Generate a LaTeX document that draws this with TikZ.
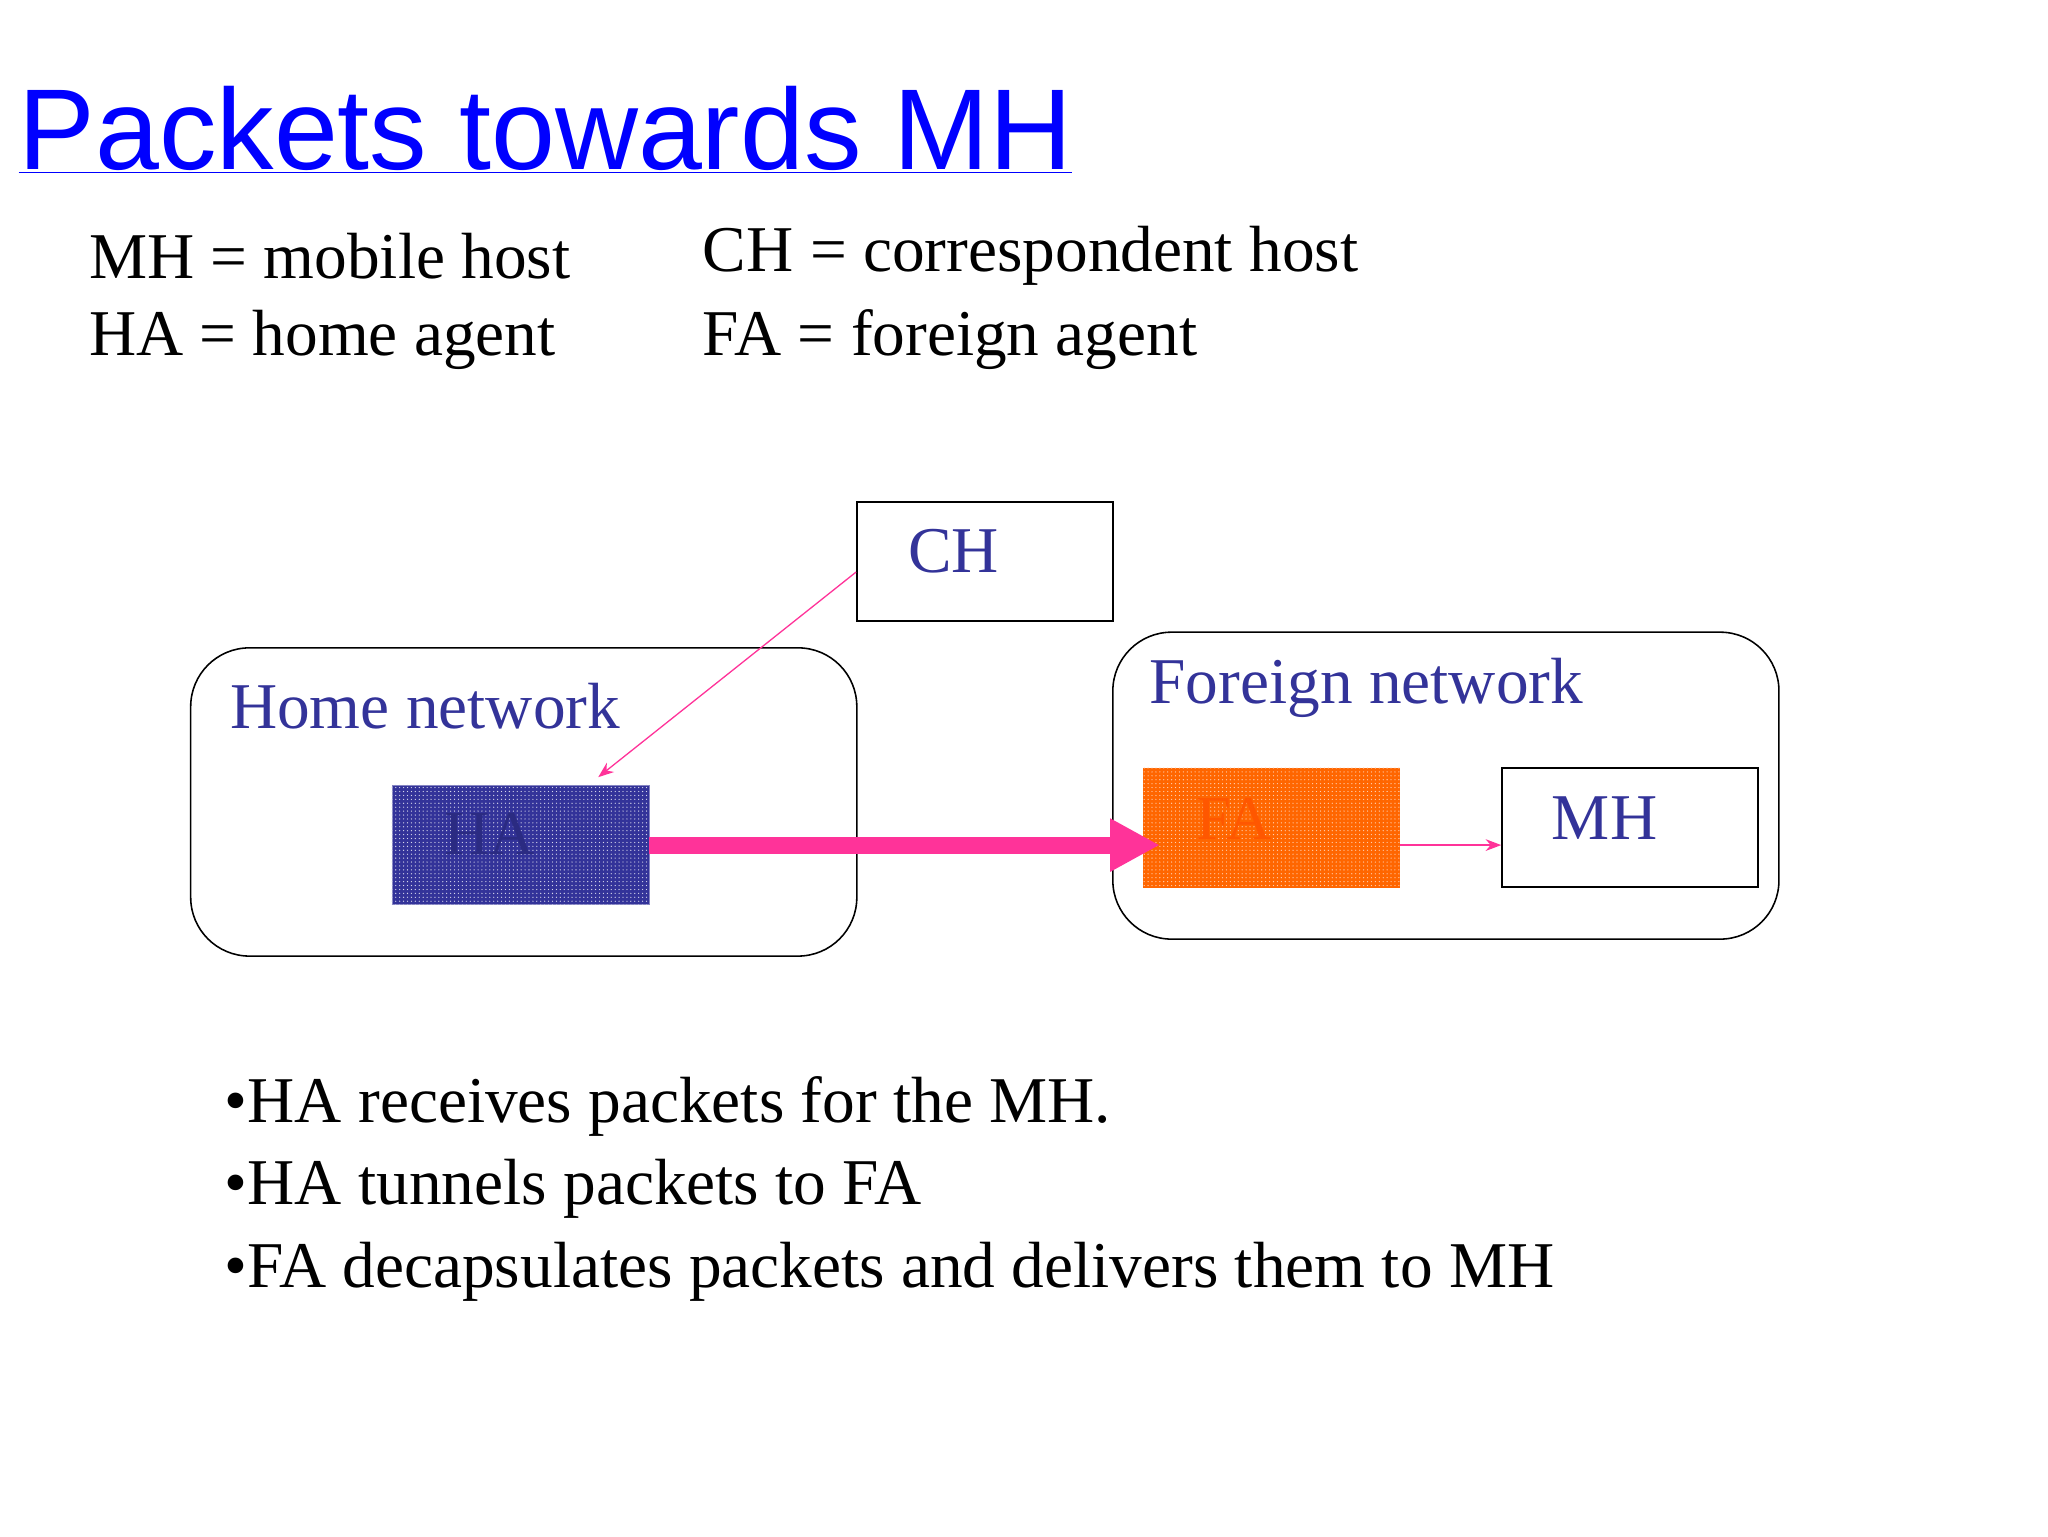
\documentclass[tikz,border=0pt]{standalone}
\usepackage{fontspec}
\setmainfont{Liberation Serif}
\newfontfamily\titlefont{Liberation Sans}
\usetikzlibrary{patterns,arrows.meta}
\definecolor{dblue}{HTML}{333399}
\definecolor{pinkc}{HTML}{FF3399}
\definecolor{orangec}{HTML}{FF6600}
\begin{document}
\begin{tikzpicture}[x=1pt,y=-1pt,
  netbox/.style={draw,line width=1.2pt,rounded corners=45pt},
  plainbox/.style={draw,line width=1.2pt},
  lbl/.style={anchor=west,inner sep=0pt,font=\fontsize{50}{50}\selectfont,text=dblue},
  txt/.style={anchor=west,inner sep=0pt,font=\fontsize{50}{50}\selectfont},
  thin/.style={pinkc,line width=1pt,-{Stealth[length=12pt,width=9pt]}}]
\useasboundingbox (0,0) rectangle (1568,1176);
\node[anchor=base west,inner sep=0pt,font=\titlefont\fontsize{88}{88}\selectfont,text=blue] (title) at (14,130) {\underline{Packets towards MH}};
\node[txt] (d1) at (68,196) {MH = mobile host};
\node[txt] (d2) at (68,260) {HA = home agent};
\node[txt] (d3) at (538,196) {CH = correspondent host};
\node[txt] (d4) at (538,260) {FA = foreign agent};
\draw[netbox] (146,496) rectangle (656,732);
\draw[netbox] (852,484) rectangle (1362,719);
\node[lbl] (hn) at (176,541) {Home network};
\node[lbl] (fn) at (880,527) {Foreign network};
\node[plainbox,minimum width=196pt,minimum height=91pt,inner sep=0pt] (ch) at (754,430) {};
\node[lbl] at (695,422) {CH};
\node[minimum width=197pt,minimum height=91pt,inner sep=0pt,fill=dblue,draw=dblue!60] (ha) at (398.5,646.5) {};
\fill[pattern=dots,pattern color=white!80!dblue] (ha.south west) rectangle (ha.north east);
\node[text=dblue!85!black,font=\fontsize{48}{48}\selectfont] at (375,638) {HA};
\node[minimum width=197pt,minimum height=92pt,inner sep=0pt,fill=orangec] (fa) at (973.5,634) {};
\fill[pattern=dots,pattern color=white!70!orangec] (fa.south west) rectangle (fa.north east);
\node[text=orangec!85!red,font=\fontsize{48}{48}\selectfont] at (945,627) {FA};
\node[plainbox,minimum width=196pt,minimum height=91pt,inner sep=0pt] (mh) at (1248,633.5) {};
\node[lbl] at (1188,626) {MH};
\draw[thin] (ch.west |- 0,438) -- (458,595);
\draw[pinkc,line width=13pt,-{Triangle[length=38pt,width=38pt]}] (ha.east |- 0,647) -- (888,647);
\draw[thin] (fa.east |- 0,647) -- (mh.west |- 0,647);
\node[txt] (b1) at (172,847) {•HA receives packets for the MH.};
\node[txt] (b2) at (172,910) {•HA tunnels packets to FA};
\node[txt] (b3) at (172,974) {•FA decapsulates packets and delivers them to MH};
\end{tikzpicture}
\end{document}
